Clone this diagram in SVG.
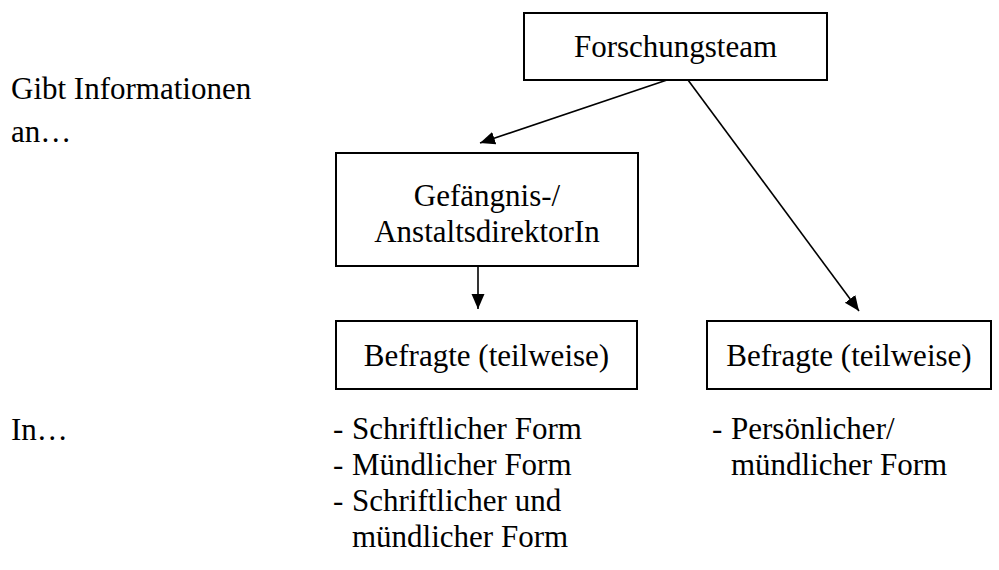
<svg xmlns="http://www.w3.org/2000/svg" width="999" height="570" viewBox="0 0 999 570">
<style>
text{font-family:"Liberation Serif","Times New Roman",serif;font-size:31px;fill:#000}
.c{text-anchor:middle}
.box{fill:#fff;stroke:#000;stroke-width:2}
.edge{stroke:#000;stroke-width:1.6;fill:none;marker-end:url(#ah)}
</style>
<defs>
<marker id="ah" markerUnits="userSpaceOnUse" markerWidth="16" markerHeight="14" refX="15" refY="6.5" orient="auto">
<path d="M0,0 L15,6.5 L0,13 z" fill="#000"/>
</marker>
</defs>
<rect width="999" height="570" fill="#fff"/>
<g id="label-gibt">
<text x="11" y="99">Gibt Informationen</text>
<text x="11" y="142">an…</text>
</g>
<g id="label-in">
<text x="11" y="440">In…</text>
</g>
<g id="connectors">
<line class="edge" x1="667" y1="80" x2="480" y2="143"/>
<line class="edge" x1="688" y1="80" x2="859" y2="311"/>
<line class="edge" x1="478" y1="266" x2="478" y2="309"/>
</g>
<g id="forschungsteam">
<rect class="box" x="524" y="13" width="303" height="67"/>
<text class="c" x="675.5" y="57">Forschungsteam</text>
</g>
<g id="direktor">
<rect class="box" x="336" y="153" width="302" height="113"/>
<text class="c" x="487" y="206">Gefängnis-/</text>
<text class="c" x="487" y="242">AnstaltsdirektorIn</text>
</g>
<g id="befragte-links">
<rect class="box" x="336" y="321" width="301" height="68"/>
<text class="c" x="486.5" y="366">Befragte (teilweise)</text>
</g>
<g id="befragte-rechts">
<rect class="box" x="707" y="321" width="284" height="68"/>
<text class="c" x="849" y="366">Befragte (teilweise)</text>
</g>
<g id="liste-links">
<text x="333" y="439">-<tspan x="352">Schriftlicher Form</tspan></text>
<text x="333" y="475">-<tspan x="352">Mündlicher Form</tspan></text>
<text x="333" y="511">-<tspan x="352">Schriftlicher und</tspan></text>
<text x="352" y="547">mündlicher Form</text>
</g>
<g id="liste-rechts">
<text x="712" y="439">-<tspan x="731">Persönlicher/</tspan></text>
<text x="731" y="475">mündlicher Form</text>
</g>
</svg>
